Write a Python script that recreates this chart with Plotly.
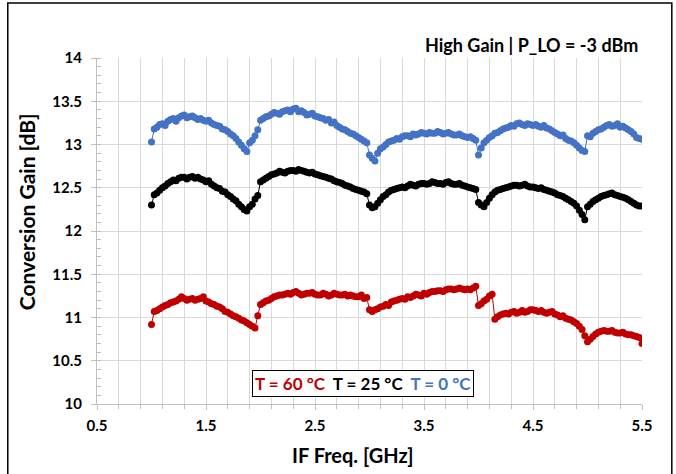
import plotly.graph_objects as go

freq = [1.000, 1.025, 1.050, 1.075, 1.100, 1.125, 1.150, 1.175, 1.200, 1.225,
        1.250, 1.275, 1.300, 1.325, 1.350, 1.375, 1.400, 1.425, 1.450, 1.475,
        1.500, 1.525, 1.550, 1.575, 1.600, 1.625, 1.650, 1.675, 1.700, 1.725,
        1.750, 1.775, 1.800, 1.825, 1.850, 1.875, 1.900, 1.925, 1.950, 1.975,
        2.000, 2.025, 2.050, 2.075, 2.100, 2.125, 2.150, 2.175, 2.200, 2.225,
        2.250, 2.275, 2.300, 2.325, 2.350, 2.375, 2.400, 2.425, 2.450, 2.475,
        2.500, 2.525, 2.550, 2.575, 2.600, 2.625, 2.650, 2.675, 2.700, 2.725,
        2.750, 2.775, 2.800, 2.825, 2.850, 2.875, 2.900, 2.925, 2.950, 2.975,
        3.000, 3.025, 3.050, 3.075, 3.100, 3.125, 3.150, 3.175, 3.200, 3.225,
        3.250, 3.275, 3.300, 3.325, 3.350, 3.375, 3.400, 3.425, 3.450, 3.475,
        3.500, 3.525, 3.550, 3.575, 3.600, 3.625, 3.650, 3.675, 3.700, 3.725,
        3.750, 3.775, 3.800, 3.825, 3.850, 3.875, 3.900, 3.925, 3.950, 3.975,
        4.000, 4.025, 4.050, 4.075, 4.100, 4.125, 4.150, 4.175, 4.200, 4.225,
        4.250, 4.275, 4.300, 4.325, 4.350, 4.375, 4.400, 4.425, 4.450, 4.475,
        4.500, 4.525, 4.550, 4.575, 4.600, 4.625, 4.650, 4.675, 4.700, 4.725,
        4.750, 4.775, 4.800, 4.825, 4.850, 4.875, 4.900, 4.925, 4.950, 4.975,
        5.000, 5.025, 5.050, 5.075, 5.100, 5.125, 5.150, 5.175, 5.200, 5.225,
        5.250, 5.275, 5.300, 5.325, 5.350, 5.375, 5.400, 5.425, 5.450, 5.475,
        5.500]

gain_0c = [
    13.03, 13.18, 13.20, 13.23, 13.24, 13.22, 13.27, 13.29, 13.30, 13.27, 13.31, 13.33, 13.34, 13.31, 13.32, 13.33, 13.31, 13.29, 13.30, 13.28,
    13.27, 13.28, 13.25, 13.23, 13.22, 13.21, 13.18, 13.17, 13.15, 13.12, 13.10, 13.07, 13.03, 12.99, 12.95, 12.92, 13.02, 13.05, 13.10, 13.17,
    13.28, 13.30, 13.32, 13.33, 13.35, 13.37, 13.36, 13.35, 13.38, 13.39, 13.40, 13.38, 13.41, 13.42, 13.38, 13.39, 13.37, 13.34, 13.35, 13.36,
    13.33, 13.32, 13.31, 13.30, 13.28, 13.29, 13.25, 13.26, 13.22, 13.20, 13.18, 13.17, 13.15, 13.13, 13.12, 13.10, 13.08, 13.06, 13.04, 13.02,
    12.88, 12.84, 12.81, 12.90, 12.95, 12.97, 13.00, 13.03, 13.04, 13.05, 13.07, 13.06, 13.09, 13.10, 13.10, 13.09, 13.12, 13.11, 13.12, 13.14,
    13.13, 13.12, 13.14, 13.13, 13.13, 13.15, 13.14, 13.12, 13.13, 13.14, 13.12, 13.11, 13.11, 13.12, 13.10, 13.09, 13.08, 13.09, 13.07, 13.05,
    12.88, 12.96, 13.02, 13.05, 13.08, 13.10, 13.13, 13.14, 13.16, 13.18, 13.19, 13.20, 13.22, 13.21, 13.24, 13.25, 13.23, 13.22, 13.24, 13.23,
    13.22, 13.23, 13.21, 13.20, 13.22, 13.19, 13.18, 13.16, 13.14, 13.12, 13.10, 13.11, 13.07, 13.05, 13.04, 13.02, 12.99, 12.96, 12.93, 12.92,
    13.10, 13.09, 13.13, 13.15, 13.17, 13.18, 13.20, 13.22, 13.23, 13.21, 13.22, 13.24, 13.20, 13.21, 13.19, 13.17, 13.15, 13.12, 13.08, 13.07,
    13.06]

gain_25c = [
    12.30, 12.42, 12.44, 12.47, 12.50, 12.52, 12.55, 12.57, 12.59, 12.58, 12.61, 12.62, 12.62, 12.60, 12.62, 12.63, 12.61, 12.62, 12.60, 12.59,
    12.57, 12.58, 12.54, 12.52, 12.50, 12.49, 12.46, 12.45, 12.42, 12.40, 12.37, 12.35, 12.31, 12.28, 12.25, 12.23, 12.28, 12.31, 12.37, 12.41,
    12.57, 12.59, 12.61, 12.63, 12.65, 12.66, 12.67, 12.69, 12.68, 12.67, 12.69, 12.70, 12.70, 12.69, 12.71, 12.70, 12.69, 12.68, 12.67, 12.68,
    12.66, 12.65, 12.64, 12.63, 12.62, 12.61, 12.60, 12.58, 12.57, 12.56, 12.55, 12.53, 12.52, 12.51, 12.49, 12.48, 12.47, 12.46, 12.45, 12.43,
    12.30, 12.27, 12.28, 12.32, 12.36, 12.40, 12.42, 12.45, 12.47, 12.48, 12.49, 12.50, 12.51, 12.50, 12.52, 12.54, 12.53, 12.52, 12.54, 12.55,
    12.55, 12.54, 12.55, 12.57, 12.56, 12.55, 12.55, 12.54, 12.56, 12.57, 12.55, 12.54, 12.54, 12.55, 12.53, 12.52, 12.51, 12.50, 12.49, 12.48,
    12.33, 12.30, 12.28, 12.33, 12.38, 12.42, 12.45, 12.47, 12.48, 12.49, 12.50, 12.51, 12.52, 12.53, 12.53, 12.52, 12.53, 12.54, 12.52, 12.51,
    12.51, 12.50, 12.49, 12.50, 12.48, 12.47, 12.46, 12.45, 12.44, 12.42, 12.41, 12.40, 12.38, 12.36, 12.34, 12.32, 12.29, 12.24, 12.19, 12.13,
    12.28, 12.31, 12.34, 12.36, 12.38, 12.40, 12.41, 12.42, 12.43, 12.44, 12.42, 12.41, 12.40, 12.39, 12.38, 12.36, 12.34, 12.32, 12.30, 12.29,
    12.29]

gain_60c = [
    10.92, 11.07, 11.08, 11.10, 11.12, 11.14, 11.15, 11.17, 11.18, 11.19, 11.21, 11.24, 11.22, 11.20, 11.21, 11.22, 11.20, 11.21, 11.22, 11.24,
    11.19, 11.18, 11.16, 11.15, 11.13, 11.12, 11.10, 11.07, 11.06, 11.04, 11.02, 11.01, 10.99, 10.97, 10.96, 10.94, 10.92, 10.90, 10.88, 11.02,
    11.15, 11.17, 11.19, 11.20, 11.22, 11.24, 11.25, 11.26, 11.26, 11.27, 11.28, 11.27, 11.29, 11.30, 11.28, 11.26, 11.27, 11.28, 11.28, 11.29,
    11.27, 11.26, 11.26, 11.28, 11.27, 11.25, 11.26, 11.28, 11.27, 11.26, 11.26, 11.27, 11.25, 11.26, 11.25, 11.24, 11.24, 11.26, 11.22, 11.23,
    11.09, 11.07, 11.09, 11.10, 11.12, 11.13, 11.15, 11.14, 11.18, 11.19, 11.20, 11.21, 11.22, 11.21, 11.24, 11.23, 11.25, 11.27, 11.26, 11.25,
    11.28, 11.27, 11.29, 11.30, 11.30, 11.31, 11.31, 11.30, 11.32, 11.33, 11.33, 11.32, 11.33, 11.34, 11.33, 11.32, 11.33, 11.32, 11.34, 11.36,
    11.14, 11.16, 11.19, 11.21, 11.25, 11.27, 10.98, 11.01, 11.03, 11.04, 11.05, 11.04, 11.06, 11.07, 11.05, 11.06, 11.08, 11.06, 11.07, 11.09,
    11.09, 11.08, 11.07, 11.08, 11.06, 11.05, 11.06, 11.07, 11.04, 11.03, 11.01, 11.02, 10.99, 10.98, 10.97, 10.95, 10.93, 10.90, 10.86, 10.79,
    10.72, 10.75, 10.78, 10.81, 10.83, 10.84, 10.85, 10.84, 10.84, 10.85, 10.83, 10.82, 10.82, 10.83, 10.81, 10.80, 10.80, 10.79, 10.78, 10.77,
    10.70]

series = [("T = 60 °C", gain_60c, "#c00000"),
          ("T = 25 °C", gain_25c, "#000000"),
          ("T = 0 °C", gain_0c, "#4472c4")]

FONT = "Lato"

fig = go.Figure()
for name, vals, col in series:
    fig.add_trace(go.Scatter(
        x=freq, y=vals, name=name, mode="lines+markers",
        line=dict(color=col, width=1),
        marker=dict(color=col, size=7),
        showlegend=False))

axis_common = dict(
    showline=True, linecolor="#bfbfbf", linewidth=1,
    gridcolor="#d9d9d9", gridwidth=1, showgrid=True,
    ticks="outside", ticklen=5, tickcolor="#bfbfbf",
    tickfont=dict(family=FONT, size=15, color="#000", weight="bold"),
    zeroline=False,
)

fig.update_xaxes(range=[0.5, 5.5], tick0=0.5, dtick=1, ticklabelstandoff=3,
                 minor=dict(tick0=0.5, dtick=0.2, showgrid=True, gridcolor="#d9d9d9",
                            ticks="outside", ticklen=4, tickcolor="#bfbfbf"),
                 **axis_common)
fig.update_yaxes(range=[10, 14], tick0=10, dtick=0.5, ticklabelstandoff=6,
                 minor=dict(dtick=0.1, ticks="inside", ticklen=4, tickcolor="#bfbfbf",
                            showgrid=False),
                 **axis_common)

legend_text = ("<span style='color:#c00000'>T = 60 °C</span>  "
               "<span style='color:#000000'>T = 25 °C</span>  "
               "<span style='color:#4472c4'>T = 0 °C</span>")

fig.update_layout(
    width=676, height=474,
    margin=dict(l=97, r=34, t=58, b=70),
    paper_bgcolor="white", plot_bgcolor="white",
    font=dict(family=FONT, color="#000"),
    annotations=[
        dict(text="High Gain | P_LO = -3 dBm", xref="paper", yref="paper",
             x=0.997, y=1.037, xanchor="right", yanchor="middle", showarrow=False,
             font=dict(family=FONT, size=18, weight="bold", color="#000")),
        dict(text=legend_text, xref="paper", yref="paper",
             x=0.4886, y=0.060, xanchor="center", yanchor="middle", showarrow=False,
             bordercolor="#000", borderwidth=1, bgcolor="white", borderpad=2,
             font=dict(family=FONT, size=17, weight="bold")),
        dict(text="Conversion Gain [dB]", xref="paper", yref="paper",
             x=-0.128, y=0.555, xanchor="center", yanchor="middle", showarrow=False,
             textangle=-90, font=dict(family=FONT, size=21, weight="bold", color="#000")),
        dict(text="IF Freq. [GHz]", xref="paper", yref="paper",
             x=0.468, y=-0.146, xanchor="center", yanchor="middle", showarrow=False,
             font=dict(family=FONT, size=20, weight="bold", color="#000")),
    ],
    shapes=[
        dict(type="rect", xref="paper", yref="paper",
             x0=-0.1637, x1=1.0547, y0=-0.25, y1=1.1592,
             line=dict(color="#000", width=1.5), layer="above"),
    ],
)

fig.write_html("out.html")
